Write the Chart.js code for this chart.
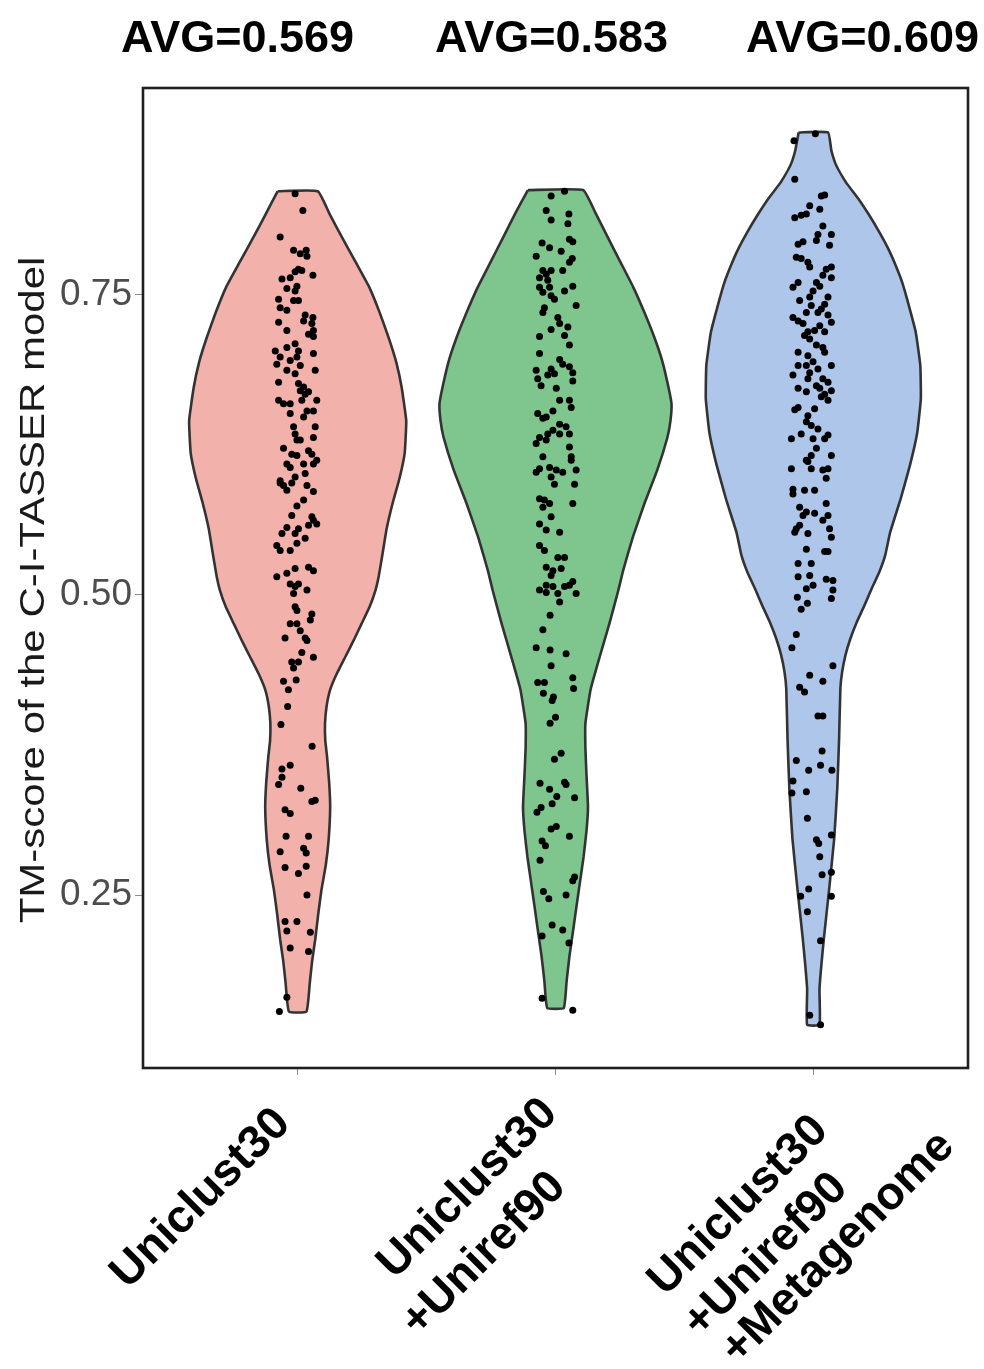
<!DOCTYPE html>
<html>
<head>
<meta charset="utf-8">
<title>TM-score by MSA database</title>
<script src="https://cdn.jsdelivr.net/npm/chart.js@4.4.1/dist/chart.umd.min.js"></script>
<style>
  html, body { margin: 0; padding: 0; background: #ffffff; }
  canvas { display: block; }
</style>
</head>
<body>
<canvas id="chart" width="984" height="1369"></canvas>
<script>
// ---- data ---------------------------------------------------------------
const categoryLines = [
  ['Uniclust30'],
  ['Uniclust30', '+Uniref90'],
  ['Uniclust30', '+Uniref90', '+Metagenome']
];
const averages = [0.569, 0.583, 0.609];
const yTickValues = [0.25, 0.50, 0.75];
const yTitle = 'TM-score of the C-I-TASSER model';

// violin outlines: density level (TM-score, top to bottom) and half-width in category units
const outlineScoreU30 = [0.836,0.817,0.798,0.777,0.756,0.735,0.714,0.694,0.673,0.645,0.618,0.597,0.576,0.555,0.534,0.515,0.504,0.490,0.476,0.462,0.448,0.434,0.421,0.407,0.393,0.379,0.365,0.344,0.323,0.296,0.275,0.254,0.233,0.213,0.195,0.177,0.153];
const outlineHalfU30  = [0.078,0.124,0.171,0.225,0.278,0.318,0.353,0.382,0.403,0.421,0.415,0.395,0.368,0.345,0.329,0.314,0.302,0.279,0.248,0.217,0.184,0.151,0.126,0.112,0.106,0.107,0.114,0.122,0.126,0.120,0.109,0.092,0.079,0.068,0.056,0.047,0.034];

const outlineScoreU90 = [0.837,0.818,0.798,0.777,0.756,0.735,0.714,0.694,0.673,0.659,0.645,0.631,0.604,0.576,0.548,0.520,0.504,0.476,0.448,0.421,0.393,0.372,0.351,0.323,0.303,0.282,0.261,0.240,0.220,0.199,0.178,0.156];
const outlineHalfU90  = [0.107,0.155,0.202,0.252,0.302,0.345,0.384,0.415,0.438,0.450,0.446,0.434,0.395,0.345,0.300,0.262,0.244,0.209,0.171,0.136,0.116,0.116,0.120,0.126,0.120,0.109,0.095,0.081,0.068,0.054,0.043,0.032];

const outlineScoreMeta = [0.885,0.870,0.857,0.843,0.830,0.816,0.802,0.788,0.774,0.760,0.746,0.719,0.691,0.663,0.635,0.608,0.580,0.552,0.533,0.519,0.505,0.491,0.477,0.463,0.450,0.436,0.422,0.380,0.339,0.297,0.256,0.214,0.172,0.142];
const outlineHalfMeta  = [0.057,0.070,0.090,0.128,0.174,0.217,0.256,0.291,0.320,0.345,0.364,0.397,0.415,0.417,0.403,0.375,0.339,0.298,0.279,0.256,0.226,0.198,0.168,0.143,0.125,0.112,0.105,0.100,0.093,0.081,0.062,0.041,0.024,0.024];

// individual targets: [horizontal jitter, TM-score]
const pointsU30 = [
  [-0.010,0.834],[0.020,0.820],[-0.068,0.798],[-0.016,0.787],[0.010,0.784],[0.033,0.787],[0.036,0.782],[0.003,0.771],
  [-0.010,0.769],[0.016,0.770],[0.059,0.766],[-0.061,0.763],[-0.029,0.764],[-0.003,0.757],[-0.042,0.755],[-0.010,0.753],
  [-0.074,0.746],[-0.016,0.745],[0.003,0.745],[-0.068,0.739],[-0.042,0.737],[0.029,0.733],[0.059,0.731],[0.023,0.728],
  [0.055,0.726],[-0.074,0.727],[0.061,0.720],[0.061,0.715],[-0.042,0.720],[0.042,0.717],[-0.010,0.709],[-0.087,0.703],
  [-0.042,0.706],[0.003,0.703],[0.061,0.701],[-0.068,0.698],[-0.029,0.695],[-0.003,0.698],[-0.081,0.692],[0.010,0.691],
  [0.068,0.687],[-0.042,0.687],[-0.010,0.684],[-0.074,0.677],[0.003,0.676],[0.023,0.673],[0.010,0.670],[0.029,0.667],
  [0.042,0.669],[-0.074,0.662],[-0.055,0.659],[-0.029,0.659],[0.016,0.662],[0.074,0.662],[0.036,0.653],[0.023,0.648],
  [0.061,0.653],[-0.029,0.651],[-0.016,0.640],[-0.010,0.634],[0.068,0.640],[0.061,0.631],[-0.003,0.629],[0.010,0.629],
  [-0.055,0.622],[-0.023,0.617],[-0.003,0.616],[0.042,0.620],[0.055,0.617],[-0.042,0.609],[-0.029,0.606],[0.023,0.609],
  [0.061,0.609],[0.074,0.612],[-0.068,0.595],[-0.068,0.593],[-0.055,0.591],[-0.023,0.593],[-0.010,0.598],[0.029,0.601],
  [0.036,0.591],[0.061,0.586],[-0.042,0.587],[0.023,0.579],[-0.003,0.574],[0.055,0.565],[0.061,0.562],[-0.023,0.566],
  [0.042,0.558],[0.074,0.559],[-0.042,0.556],[-0.061,0.551],[-0.010,0.551],[0.003,0.555],[-0.081,0.541],[-0.068,0.537],
  [-0.029,0.537],[-0.003,0.543],[0.029,0.547],[-0.081,0.515],[-0.042,0.518],[-0.010,0.522],[0.042,0.523],[0.061,0.520],
  [-0.029,0.509],[-0.010,0.507],[0.003,0.509],[0.036,0.504],[-0.016,0.501],[-0.010,0.490],[-0.003,0.487],[0.055,0.484],
  [0.049,0.479],[-0.029,0.476],[-0.003,0.476],[0.010,0.470],[-0.049,0.464],[0.029,0.464],[0.036,0.462],[0.016,0.452],
  [0.061,0.448],[-0.023,0.444],[0.003,0.444],[-0.016,0.439],[-0.055,0.428],[-0.006,0.429],[-0.036,0.421],[-0.039,0.407],
  [-0.065,0.392],[0.056,0.374],[-0.029,0.358],[-0.061,0.355],[-0.061,0.348],[-0.074,0.342],[0.012,0.339],[0.055,0.328],
  [0.068,0.329],[-0.049,0.321],[-0.029,0.318],[-0.045,0.299],[0.042,0.299],[-0.068,0.286],[0.023,0.289],[0.033,0.285],
  [-0.049,0.273],[0.033,0.274],[0.003,0.268],[0.036,0.250],[-0.049,0.228],[-0.003,0.228],[-0.042,0.220],[0.049,0.219],
  [-0.029,0.206],[0.042,0.203],[-0.042,0.165],[-0.071,0.153]
];

const pointsU90 = [
  [0.035,0.836],[-0.017,0.832],[-0.036,0.820],[0.052,0.817],[-0.017,0.812],[0.048,0.809],[0.054,0.796],[-0.052,0.793],
  [-0.023,0.789],[0.022,0.786],[0.067,0.794],[-0.075,0.782],[0.065,0.780],[0.054,0.777],[-0.049,0.770],[-0.036,0.767],
  [-0.062,0.764],[-0.017,0.770],[0.028,0.770],[-0.030,0.762],[-0.062,0.756],[-0.023,0.756],[0.067,0.757],[-0.049,0.752],
  [-0.017,0.749],[-0.004,0.746],[0.035,0.753],[0.080,0.741],[-0.043,0.739],[-0.049,0.735],[0.009,0.731],[0.016,0.726],
  [-0.017,0.721],[0.048,0.723],[-0.062,0.715],[0.035,0.716],[0.054,0.708],[-0.062,0.701],[0.016,0.696],[0.028,0.692],
  [-0.075,0.687],[-0.017,0.688],[-0.030,0.683],[-0.004,0.684],[0.054,0.690],[0.067,0.685],[-0.069,0.680],[-0.056,0.674],
  [0.067,0.678],[0.003,0.672],[0.016,0.662],[0.054,0.662],[0.061,0.656],[-0.010,0.653],[-0.069,0.651],[-0.049,0.647],
  [-0.036,0.648],[0.016,0.642],[0.041,0.640],[-0.030,0.634],[-0.010,0.637],[-0.062,0.631],[0.016,0.634],[0.054,0.634],
  [-0.075,0.626],[-0.036,0.629],[0.054,0.623],[-0.049,0.615],[0.061,0.615],[0.061,0.612],[-0.023,0.606],[-0.062,0.605],
  [0.003,0.604],[0.028,0.602],[-0.075,0.602],[0.080,0.604],[-0.017,0.598],[-0.004,0.592],[0.074,0.592],[-0.062,0.580],
  [-0.043,0.579],[-0.023,0.576],[-0.049,0.573],[0.067,0.576],[-0.017,0.565],[-0.062,0.559],[-0.036,0.554],[0.016,0.552],
  [-0.062,0.541],[-0.043,0.537],[0.009,0.531],[0.035,0.531],[-0.036,0.523],[-0.010,0.520],[0.022,0.522],[-0.017,0.516],
  [-0.036,0.508],[-0.062,0.504],[-0.010,0.507],[0.035,0.507],[0.054,0.508],[0.080,0.501],[0.067,0.511],[-0.036,0.502],
  [0.009,0.501],[0.016,0.494],[-0.021,0.483],[-0.049,0.471],[-0.075,0.456],[-0.021,0.454],[0.041,0.451],[-0.017,0.441],
  [0.067,0.431],[0.070,0.422],[-0.069,0.427],[-0.043,0.427],[-0.047,0.418],[-0.008,0.415],[-0.013,0.412],[0.000,0.398],
  [-0.021,0.393],[0.022,0.368],[-0.004,0.363],[-0.060,0.343],[0.035,0.344],[0.041,0.342],[-0.023,0.338],[0.005,0.332],
  [0.074,0.331],[-0.013,0.326],[-0.056,0.323],[-0.072,0.319],[-0.017,0.305],[0.003,0.307],[0.054,0.299],[-0.052,0.295],
  [-0.039,0.291],[-0.060,0.279],[0.067,0.262],[0.074,0.265],[-0.047,0.253],[-0.026,0.247],[0.041,0.250],[-0.013,0.225],
  [0.028,0.221],[-0.052,0.216],[0.052,0.210],[-0.052,0.164],[0.067,0.154]
];

const pointsMeta = [
  [0.008,0.884],[-0.075,0.878],[-0.072,0.846],[0.044,0.833],[0.031,0.832],[-0.014,0.824],[0.025,0.821],[-0.027,0.817],
  [-0.072,0.814],[-0.047,0.816],[0.037,0.807],[0.018,0.800],[0.070,0.800],[0.012,0.795],[-0.059,0.792],[-0.040,0.794],
  [0.063,0.791],[-0.066,0.781],[-0.047,0.780],[-0.021,0.777],[-0.014,0.773],[0.050,0.771],[0.070,0.773],[0.037,0.766],
  [0.070,0.764],[0.012,0.760],[0.025,0.757],[-0.079,0.756],[-0.059,0.760],[-0.001,0.753],[-0.014,0.748],[0.057,0.748],
  [0.044,0.742],[-0.053,0.745],[-0.008,0.741],[0.031,0.738],[-0.027,0.735],[0.018,0.735],[-0.079,0.731],[-0.059,0.728],
  [-0.040,0.726],[0.057,0.733],[0.070,0.727],[-0.021,0.719],[0.005,0.720],[0.025,0.724],[-0.034,0.716],[-0.014,0.713],
  [0.044,0.719],[0.012,0.708],[0.037,0.706],[0.044,0.702],[-0.059,0.702],[-0.021,0.699],[-0.001,0.694],[-0.059,0.691],
  [-0.027,0.691],[0.018,0.688],[0.070,0.691],[-0.079,0.683],[-0.021,0.680],[-0.014,0.685],[0.037,0.680],[0.012,0.674],
  [0.057,0.677],[-0.059,0.672],[0.025,0.672],[-0.027,0.669],[0.070,0.670],[0.044,0.667],[0.057,0.662],[0.031,0.665],
  [-0.059,0.656],[-0.072,0.654],[0.005,0.655],[-0.021,0.649],[-0.027,0.644],[-0.008,0.641],[0.018,0.638],[0.057,0.633],
  [0.044,0.630],[-0.085,0.630],[-0.047,0.634],[-0.001,0.630],[0.012,0.622],[-0.008,0.616],[0.070,0.616],[-0.021,0.611],
  [-0.027,0.612],[-0.085,0.605],[-0.008,0.605],[0.037,0.604],[0.057,0.605],[0.050,0.597],[-0.079,0.588],[-0.034,0.587],
  [0.005,0.587],[-0.079,0.584],[0.050,0.576],[-0.053,0.573],[-0.027,0.569],[-0.040,0.566],[0.005,0.568],[0.057,0.566],
  [0.037,0.562],[-0.066,0.555],[-0.053,0.558],[0.063,0.555],[-0.021,0.551],[-0.072,0.552],[0.070,0.548],[-0.027,0.538],
  [0.044,0.536],[0.057,0.536],[-0.059,0.526],[-0.008,0.526],[-0.059,0.515],[-0.014,0.516],[0.050,0.513],[0.076,0.512],
  [-0.027,0.505],[-0.001,0.508],[0.076,0.504],[-0.062,0.498],[-0.023,0.493],[-0.047,0.488],[0.070,0.497],[-0.066,0.467],
  [-0.083,0.456],[0.076,0.441],[-0.014,0.433],[0.037,0.428],[-0.053,0.423],[-0.034,0.419],[0.018,0.399],[0.037,0.399],
  [0.034,0.370],[-0.066,0.362],[-0.018,0.354],[0.028,0.358],[0.072,0.354],[-0.079,0.345],[-0.083,0.335],[-0.027,0.336],
  [-0.023,0.314],[0.070,0.300],[0.012,0.296],[0.021,0.293],[0.025,0.282],[0.034,0.267],[0.070,0.269],[-0.018,0.255],
  [-0.049,0.249],[0.070,0.249],[-0.023,0.236],[0.028,0.212],[-0.014,0.150],[0.028,0.142]
];

// ---- styling --------------------------------------------------------------
const FONT = "'Liberation Sans', Arial, Helvetica, sans-serif";
const fillColors = ['#F3B1AB', '#7FC68E', '#AEC6E9'];
const outlineColor = '#333333';

// closed outline: left edge top→bottom, right edge bottom→top, back to the start
function violinOutline(center, scores, halves) {
  const left = scores.map((s, i) => ({ x: center - halves[i], y: s }));
  const right = scores.map((s, i) => ({ x: center + halves[i], y: s })).reverse();
  return left.concat(right, [left[0]]);
}

const outlines = [
  [outlineScoreU30, outlineHalfU30],
  [outlineScoreU90, outlineHalfU90],
  [outlineScoreMeta, outlineHalfMeta]
];
const pointSets = [pointsU30, pointsU90, pointsMeta];

const datasets = [];
outlines.forEach(([scores, halves], i) => {
  datasets.push({
    type: 'line',
    data: violinOutline(i + 1, scores, halves),
    fill: 'shape',
    backgroundColor: fillColors[i],
    borderColor: outlineColor,
    borderWidth: 2.6,
    tension: 0.12,
    pointRadius: 0,
    pointHoverRadius: 0,
    order: 2
  });
});
pointSets.forEach((pts, i) => {
  datasets.push({
    type: 'scatter',
    data: pts.map(([jit, score]) => ({ x: i + 1 + jit, y: score })),
    backgroundColor: '#000000',
    borderWidth: 0,
    pointRadius: 3.5,
    pointHoverRadius: 3.5,
    order: 1
  });
});

// text placement around the panel
const avgTitleX = [121, 435, 746];
const avgTitleBaseline = 52;
// baseline-start of each category label line, relative to its tick and the panel bottom
const labelLineOffsets = [
  [[-170, 222]],
  [[-161, 212], [-137, 270]],
  [[-148, 229], [-113, 271], [-75, 298]]
];

const decorations = {
  id: 'decorations',
  afterDraw(chart) {
    const { ctx, chartArea, scales } = chart;
    ctx.save();

    // panel frame
    ctx.strokeStyle = '#1f1f1f';
    ctx.lineWidth = 2.6;
    ctx.strokeRect(chartArea.left, chartArea.top,
                   chartArea.right - chartArea.left, chartArea.bottom - chartArea.top);

    // group averages above the panel
    ctx.fillStyle = '#000000';
    ctx.font = 'bold 45px ' + FONT;
    ctx.textAlign = 'left';
    ctx.textBaseline = 'alphabetic';
    averages.forEach((a, i) => {
      ctx.fillText('AVG=' + a.toFixed(3), avgTitleX[i], avgTitleBaseline);
    });

    // y-axis title (slightly wide lettering)
    ctx.save();
    ctx.translate(44, 590);
    ctx.rotate(-Math.PI / 2);
    ctx.scale(1.2, 1);
    ctx.font = '35px ' + FONT;
    ctx.fillStyle = '#1a1a1a';
    ctx.textAlign = 'center';
    ctx.fillText(yTitle, 0, 0);
    ctx.restore();

    // rotated category labels
    ctx.font = 'bold 46px ' + FONT;
    ctx.fillStyle = '#000000';
    ctx.textAlign = 'left';
    categoryLines.forEach((lines, i) => {
      const tx = scales.x.getPixelForValue(i + 1);
      lines.forEach((line, j) => {
        const [dx, dy] = labelLineOffsets[i][j];
        ctx.save();
        ctx.translate(tx + dx, chartArea.bottom + dy);
        ctx.rotate(-Math.PI / 4);
        ctx.fillText(line, 0, 0);
        ctx.restore();
      });
    });

    ctx.restore();
  }
};

new Chart(document.getElementById('chart'), {
  type: 'scatter',
  data: { datasets },
  options: {
    responsive: false,
    devicePixelRatio: 1,
    animation: false,
    events: [],
    layout: { padding: { top: 88, right: 16, bottom: 0, left: 0 } },
    plugins: { legend: { display: false }, tooltip: { enabled: false } },
    scales: {
      x: {
        type: 'linear',
        min: 0.4,
        max: 3.6,
        afterBuildTicks: (scale) => { scale.ticks = [1, 2, 3].map(v => ({ value: v })); },
        afterFit: (scale) => { scale.height = 301; },
        ticks: { display: false },
        grid: { drawOnChartArea: false, drawTicks: true, tickLength: 7, color: '#8c8c8c', lineWidth: 1 },
        border: { display: false }
      },
      y: {
        type: 'linear',
        min: 0.106,
        max: 0.922,
        afterBuildTicks: (scale) => { scale.ticks = yTickValues.map(v => ({ value: v })); },
        afterFit: (scale) => { scale.width = 143; },
        ticks: {
          callback: (v) => Number(v).toFixed(2),
          font: { family: FONT, size: 37 },
          color: '#4d4d4d',
          padding: 3
        },
        grid: { drawOnChartArea: false, drawTicks: true, tickLength: 8, color: '#8c8c8c', lineWidth: 1 },
        border: { display: false }
      }
    }
  },
  plugins: [decorations]
});
</script>
</body>
</html>
